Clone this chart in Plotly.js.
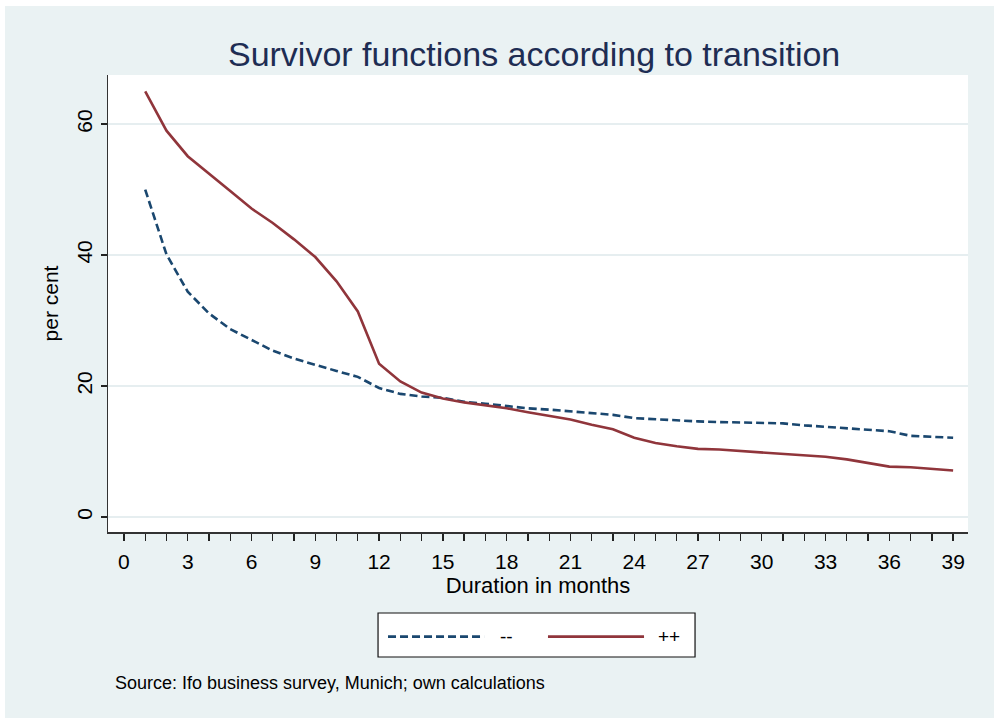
<!DOCTYPE html>
<html>
<head>
<meta charset="utf-8">
<script src="https://cdn.plot.ly/plotly-3.0.1.min.js"></script>
<style>
  html, body { margin: 0; padding: 0; background: #ffffff; }
  #chart { position: absolute; left: 5px; top: 6px; width: 989px; height: 712px; }
</style>
</head>
<body>
<div id="chart"></div>
<script>
// Duration in months
const months = [1,2,3,4,5,6,7,8,9,10,11,12,13,14,15,16,17,18,19,20,
                21,22,23,24,25,26,27,28,29,30,31,32,33,34,35,36,37,38,39];
// Survivor function for transition "--" (per cent)
const minusSeries = [50.0,40.1,34.4,31.1,28.7,27.0,25.4,24.2,23.2,22.3,
                     21.4,19.7,18.8,18.4,18.2,17.6,17.3,16.9,16.6,16.4,
                     16.1,15.8,15.6,15.1,14.9,14.8,14.6,14.5,14.4,14.3,
                     14.3,14.0,13.8,13.5,13.4,13.1,12.4,12.3,12.1];
// Survivor function for transition "++" (per cent)
const plusSeries = [65.0,59.0,55.1,52.5,49.8,47.1,44.9,42.4,39.7,36.0,
                    31.4,23.4,20.7,19.0,18.1,17.5,17.1,16.6,16.0,15.4,
                    14.9,14.1,13.4,12.1,11.3,10.8,10.4,10.3,10.1,9.9,
                    9.7,9.5,9.2,8.8,8.3,7.7,7.6,7.3,7.1];
const seriesNames = ['--', '++'];
const xTickVals = [0,3,6,9,12,15,18,21,24,27,30,33,36,39];
const yTickVals = [0,20,40,60];

const BLUE = '#1a476f';
const RED = '#90353b';
const FONT = '"Liberation Sans", Arial, sans-serif';

const traces = [
  {x: months, y: minusSeries, name: seriesNames[0], type: 'scatter', mode: 'lines',
   line: {color: BLUE, width: 2.6, dash: '8px,4px'}, showlegend: false, hoverinfo: 'x+y'},
  {x: months, y: plusSeries, name: seriesNames[1], type: 'scatter', mode: 'lines',
   line: {color: RED, width: 2.6}, showlegend: false, hoverinfo: 'x+y'}
];

const legBox = {x0: 0.314, x1: 0.6826, y0: -0.2735, y1: -0.1772};
const legY = -0.229;

const layout = {
  width: 989, height: 712,
  paper_bgcolor: '#eaf2f3',
  plot_bgcolor: '#ffffff',
  margin: {l: 103, r: 26, t: 69, b: 186},
  font: {family: FONT, color: '#000000'},
  title: {text: 'Survivor functions according to transition',
          font: {family: FONT, size: 34, color: '#1e2d53'},
          x: 0.535, xanchor: 'center', y: 0.933, yanchor: 'middle'},
  xaxis: {
    range: [-0.75, 39.7], tickmode: 'array', tickvals: xTickVals,
    ticks: 'outside', ticklen: 7, tickwidth: 1.3, tickcolor: '#222',
    ticklabelstandoff: 3,
    showline: true, linecolor: '#333', linewidth: 1.5,
    showgrid: false, zeroline: false,
    tickfont: {size: 21, family: FONT, color: '#000'},
    minor: {dtick: 1, tick0: 0, ticks: 'outside', ticklen: 7, tickwidth: 1.3, tickcolor: '#222', showgrid: false},
    title: {text: 'Duration in months', font: {size: 22, family: FONT, color: '#000'}, standoff: 5}
  },
  yaxis: {
    range: [-2.29, 67.5], tickmode: 'array', tickvals: yTickVals,
    ticks: 'outside', ticklen: 6, tickwidth: 1.3, tickcolor: '#222',
    tickangle: -90,
    showline: true, linecolor: '#333', linewidth: 1.5,
    showgrid: true, gridcolor: '#e6eef0', gridwidth: 2, zeroline: false,
    tickfont: {size: 21, family: FONT, color: '#000'},
    title: {text: 'per cent', font: {size: 21, family: FONT, color: '#000'}, standoff: 8}
  },
  shapes: [
    {type: 'rect', xref: 'paper', yref: 'paper', x0: legBox.x0, x1: legBox.x1, y0: legBox.y0, y1: legBox.y1,
     line: {color: '#111', width: 1.2}, fillcolor: '#ffffff', layer: 'above'},
    {type: 'line', xref: 'paper', yref: 'paper', x0: 0.3256, x1: 0.4373, y0: legY, y1: legY,
     line: {color: BLUE, width: 2.6, dash: '8px,4px'}},
    {type: 'line', xref: 'paper', yref: 'paper', x0: 0.5116, x1: 0.6233, y0: legY, y1: legY,
     line: {color: RED, width: 2.6}}
  ],
  annotations: [
    {xref: 'paper', yref: 'paper', x: 0.453, y: legY, xanchor: 'left', yanchor: 'middle',
     text: seriesNames[0], showarrow: false, font: {size: 19, family: FONT, color: '#000'}},
    {xref: 'paper', yref: 'paper', x: 0.6372, y: legY, xanchor: 'left', yanchor: 'middle',
     text: seriesNames[1], showarrow: false, font: {size: 19, family: FONT, color: '#000'}},
    {xref: 'paper', yref: 'paper', x: 0.0058, y: -0.330, xanchor: 'left', yanchor: 'middle',
     text: 'Source: Ifo business survey, Munich; own calculations', showarrow: false,
     font: {size: 18, family: FONT, color: '#000'}}
  ]
};

Plotly.newPlot('chart', traces, layout, {displayModeBar: false, staticPlot: true});
</script>
</body>
</html>
